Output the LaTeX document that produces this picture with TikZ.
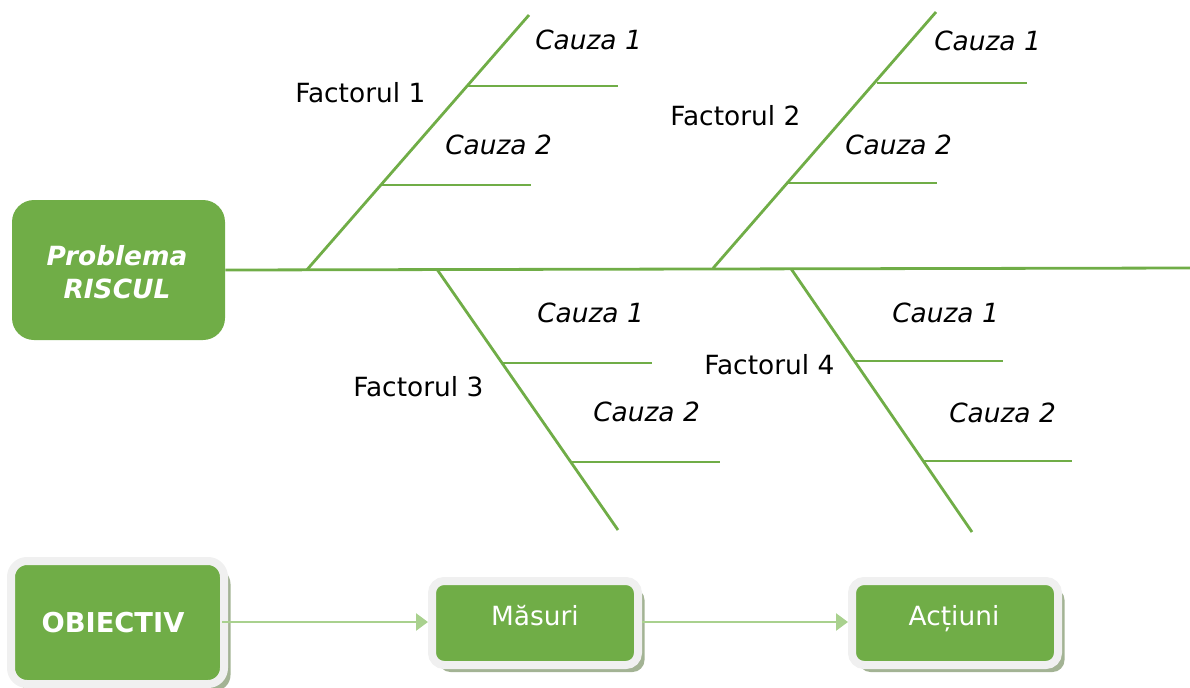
\documentclass[tikz,border=0pt]{standalone}
\usepackage{fontspec}
\setmainfont{DejaVu Sans}
\usetikzlibrary{arrows.meta,shadows}
\definecolor{grn}{HTML}{70AD47}
\definecolor{lgrn}{HTML}{A9D18E}
\definecolor{frm}{HTML}{F0F0F0}
\definecolor{shd}{HTML}{A3B394}
\def\pxu{0.75pt}
\begin{document}
\begin{tikzpicture}[x=0.75pt,y=-0.75pt,
  bone/.style={draw=grn,line width=2.8*\pxu},
  lbl/.style={anchor=base west,inner sep=0pt,font=\fontsize{19.8}{23}\selectfont},
  cz/.style={lbl,font=\fontsize{19.8}{23}\selectfont\itshape},
  probbox/.style={fill=grn,rounded corners=22*\pxu,minimum width=213*\pxu,minimum height=140*\pxu,inner sep=0pt},
  framed/.style={fill=grn,draw=frm,line width=8*\pxu,inner sep=0pt,
     drop shadow={shadow xshift=6.5*\pxu,shadow yshift=-7*\pxu,fill=shd,opacity=1}},
  arr/.style={draw=lgrn,line width=2.6*\pxu,-{Triangle[length=12*\pxu,width=17*\pxu]}},
  wtxt/.style={text=white,inner sep=0pt,font=\fontsize{19.8}{23}\selectfont}
]
\useasboundingbox (0,0) rectangle (1190,687);

% problem box
\node[probbox] (prob) at (118.5,270) {};
\node[wtxt,align=center,font=\fontsize{19.8}{25}\selectfont\bfseries\itshape] (probT) at (117,272) {Problema\\RISCUL};

% spine
\coordinate (spEnd) at (1190,268);
\draw[bone] (prob.east) -- (spEnd);

% bone coordinates
\coordinate (f1b) at (307,269.7);  \coordinate (f1t) at (529,15);
\coordinate (f2b) at (713,268.3);  \coordinate (f2t) at (936,12);
\coordinate (f3b) at (437,269.3);  \coordinate (f3t) at (618,530);
\coordinate (f4b) at (791,268.7);  \coordinate (f4t) at (972,532);
\draw[bone] (f1b) -- (f1t);
\draw[bone] (f2b) -- (f2t);
\draw[bone] (f3b) -- (f3t);
\draw[bone] (f4b) -- (f4t);

% cause branches
\coordinate (c11a) at (468,86);  \coordinate (c11b) at (618,86);
\coordinate (c12a) at (382,185); \coordinate (c12b) at (531,185);
\coordinate (c21a) at (877,83);  \coordinate (c21b) at (1027,83);
\coordinate (c22a) at (786,183); \coordinate (c22b) at (937,183);
\coordinate (c31a) at (503,363); \coordinate (c31b) at (652,363);
\coordinate (c32a) at (571,462); \coordinate (c32b) at (720,462);
\coordinate (c41a) at (855,361); \coordinate (c41b) at (1003,361);
\coordinate (c42a) at (923,461); \coordinate (c42b) at (1072,461);
\foreach \c in {11,12,21,22,31,32,41,42}{\draw[bone] (c\c a) -- (c\c b);}

% labels
\node[lbl] (F1) at (295,102) {Factorul 1};
\node[cz] (L11) at (535,49) {Cauza 1};
\node[cz] (L12) at (445,154) {Cauza 2};
\node[lbl] (F2) at (670,125) {Factorul 2};
\node[cz] (L21) at (934,50) {Cauza 1};
\node[cz] (L22) at (845,154) {Cauza 2};
\node[lbl] (F3) at (353,396) {Factorul 3};
\node[cz] (L31) at (537,322) {Cauza 1};
\node[cz] (L32) at (593,421) {Cauza 2};
\node[lbl] (F4) at (704,374) {Factorul 4};
\node[cz] (L41) at (892,322) {Cauza 1};
\node[cz] (L42) at (949,422) {Cauza 2};

% bottom boxes
\node[framed,rounded corners=16*\pxu,minimum width=213*\pxu,minimum height=123*\pxu] (obj) at (117.5,622.5) {};
\node[wtxt,font=\fontsize{20.5}{24}\selectfont\bfseries] (objT) at (113,622.5) {OBIECTIV};
\node[framed,rounded corners=12*\pxu,minimum width=206*\pxu,minimum height=84*\pxu] (mas) at (535,623) {};
\node[wtxt,anchor=base] (masT) at (535,625) {Măsuri};
\node[framed,rounded corners=12*\pxu,minimum width=206*\pxu,minimum height=84*\pxu] (act) at (955,623) {};
\node[wtxt,anchor=base] (actT) at (954,625) {Acțiuni};

\draw[arr,shorten <=-6*\pxu] (obj.east |- 0,622) -- (mas.west |- 0,622);
\draw[arr] (mas.east |- 0,622) -- (act.west |- 0,622);
\end{tikzpicture}
\end{document}
